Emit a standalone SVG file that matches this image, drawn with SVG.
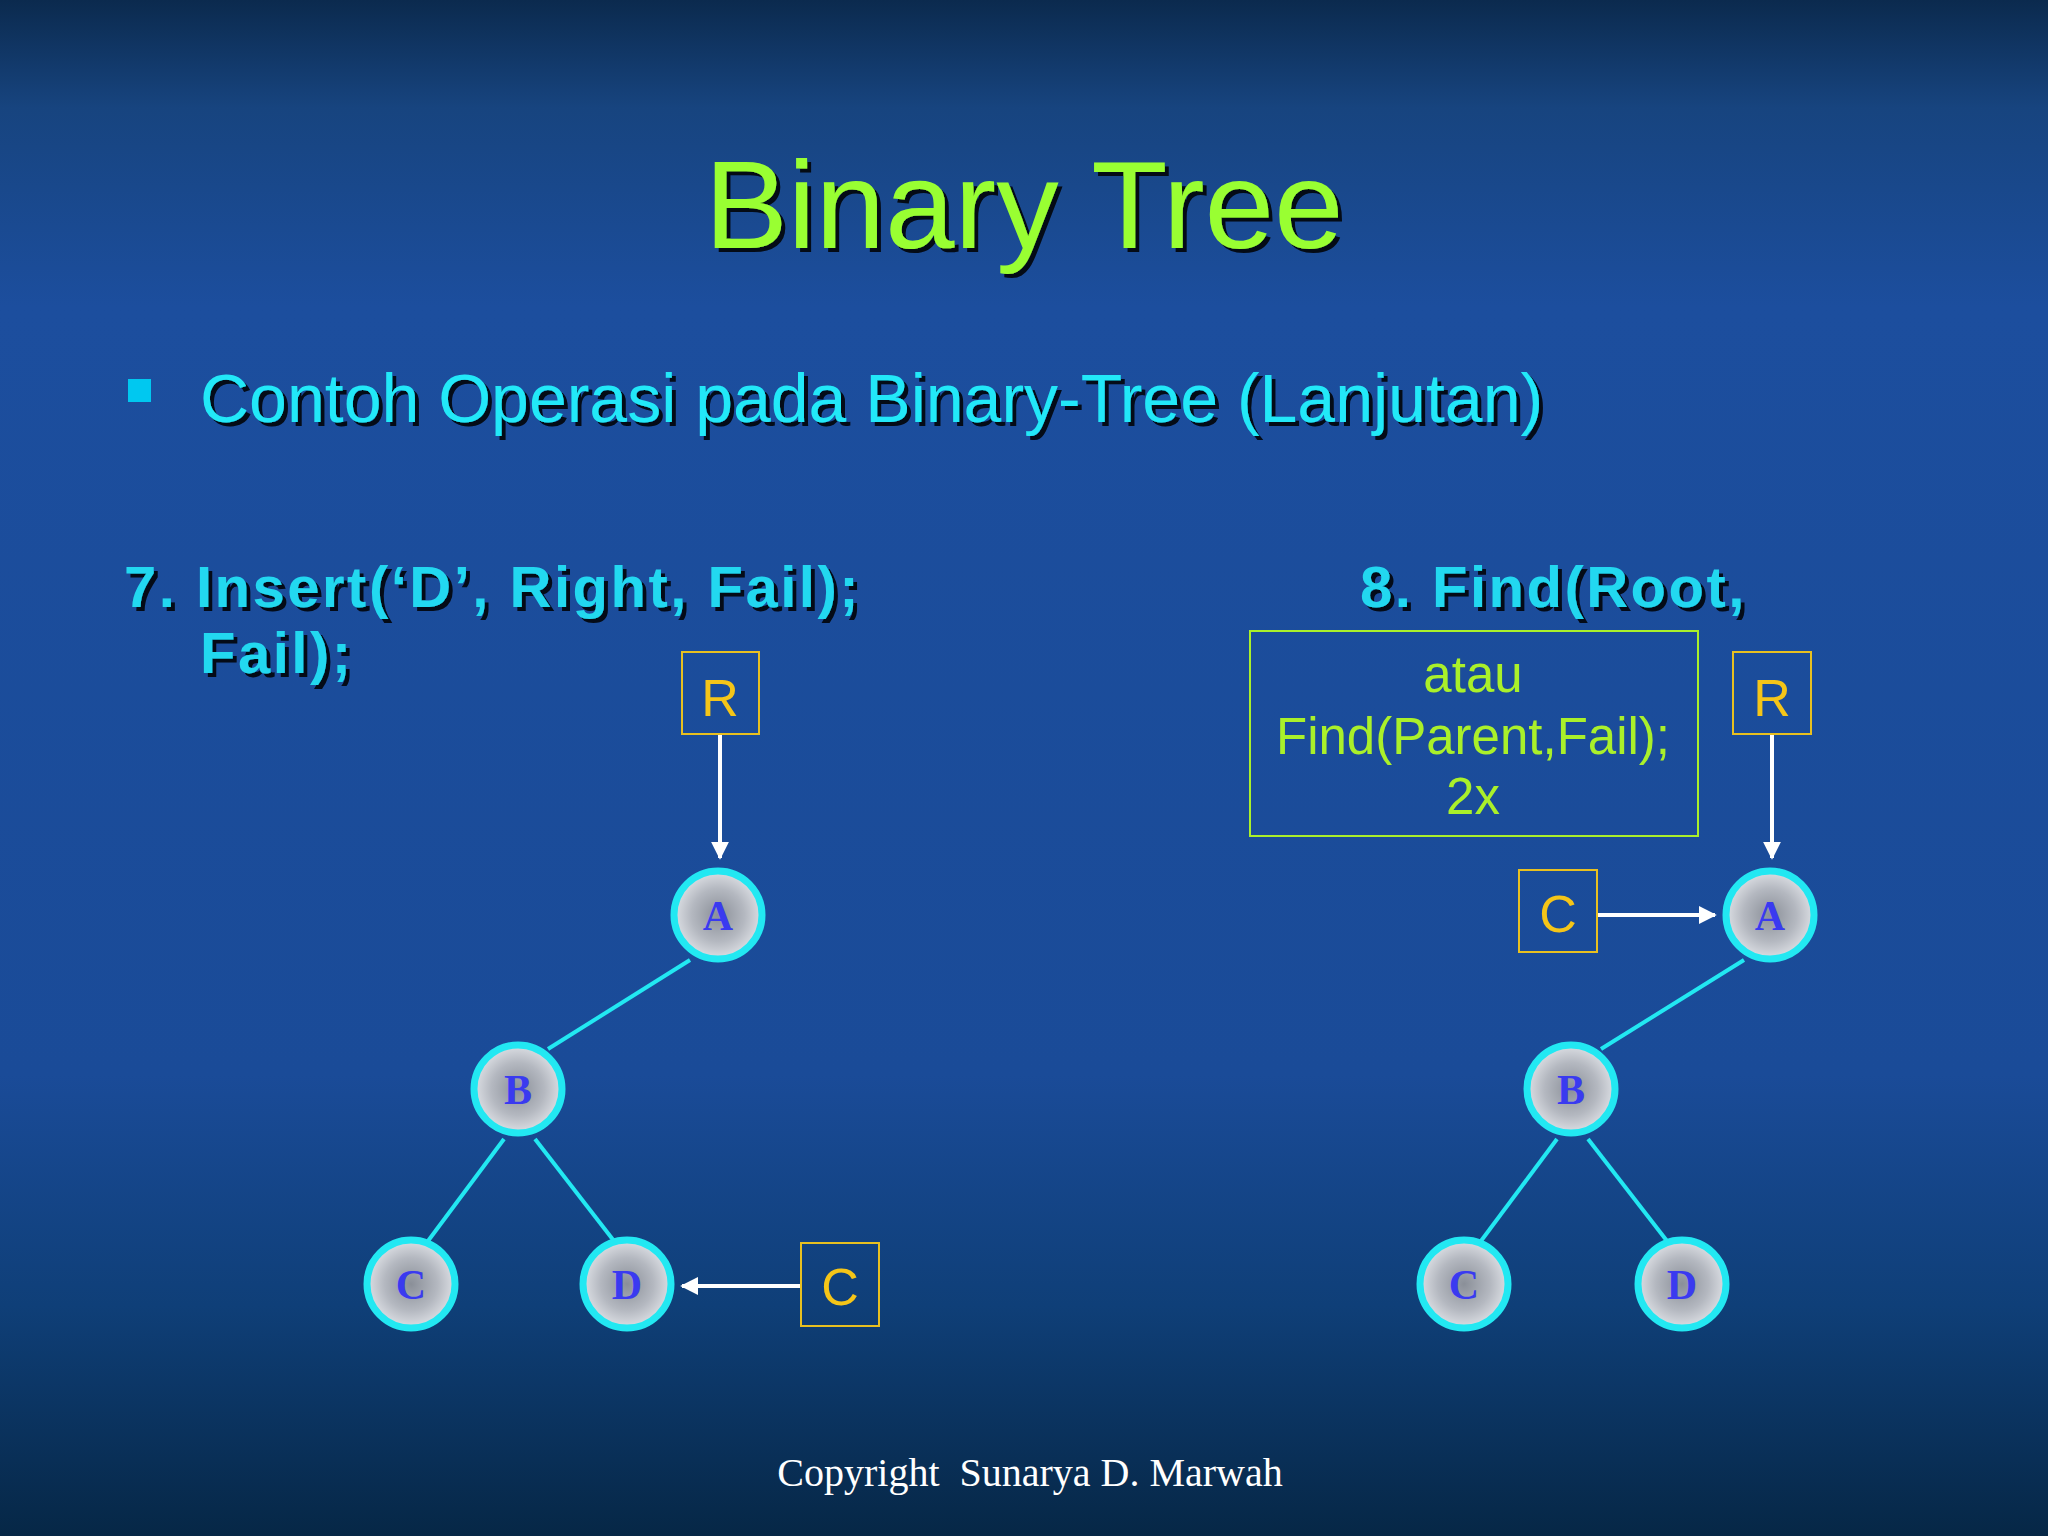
<svg xmlns="http://www.w3.org/2000/svg" width="2048" height="1536" viewBox="0 0 2048 1536">
<defs>
<linearGradient id="bg" x1="0" y1="0" x2="0" y2="1">
<stop offset="0" stop-color="#0b2a4e"/>
<stop offset="0.07" stop-color="#17447f"/>
<stop offset="0.2" stop-color="#1c4e9e"/>
<stop offset="0.7" stop-color="#1a4b98"/>
<stop offset="0.85" stop-color="#0f3f78"/>
<stop offset="1" stop-color="#062746"/>
</linearGradient>
<radialGradient id="nodefill" cx="0.5" cy="0.5" r="0.5">
<stop offset="0" stop-color="#8a8f98"/>
<stop offset="0.6" stop-color="#b4b8c0"/>
<stop offset="1" stop-color="#dcdfe4"/>
</radialGradient>
<marker id="ah" viewBox="0 0 10 10" refX="9" refY="5" markerWidth="4.5" markerHeight="4.5" orient="auto" markerUnits="strokeWidth">
<path d="M0,0 L10,5 L0,10 z" fill="#ffffff"/>
</marker>
<filter id="sh" x="-5%" y="-5%" width="110%" height="120%">
<feDropShadow dx="4" dy="4" stdDeviation="0" flood-color="#000000" flood-opacity="0.85"/>
</filter>
</defs>
<style>
.node circle{fill:url(#nodefill);stroke:#22e8f2;stroke-width:7}
.node text{font-family:"Liberation Serif",serif;font-weight:bold;font-size:42px;fill:#3a3af0;text-anchor:middle}
.edge{stroke:#22e8f2;stroke-width:4;fill:none}
.ptr{stroke:#ffffff;stroke-width:4;fill:none;marker-end:url(#ah)}
.ybox{fill:none;stroke:#e8c020;stroke-width:2}
.ytxt{font-family:"Liberation Sans",sans-serif;font-size:52px;fill:#f5c518;text-anchor:middle}
.head{font-family:"Liberation Sans",sans-serif;font-weight:bold;font-size:58px;fill:#22d8f0;letter-spacing:2.5px;filter:url(#sh)}
.gtxt{font-family:"Liberation Sans",sans-serif;font-size:51px;fill:#aaf02a;text-anchor:middle}
</style>
<rect width="2048" height="1536" fill="url(#bg)"/>
<text x="1024" y="248" font-family="Liberation Sans, sans-serif" font-size="125" fill="#99ff33" text-anchor="middle" filter="url(#sh)">Binary Tree</text>
<rect x="128" y="379" width="23" height="23" fill="#00c8f0"/>
<text x="200" y="422" font-family="Liberation Sans, sans-serif" font-size="68" fill="#22e8f8" filter="url(#sh)">Contoh Operasi pada Binary-Tree (Lanjutan)</text>
<text class="head" x="124" y="607">7. Insert(‘D’, Right, Fail);</text>
<text class="head" x="200" y="673">Fail);</text>
<text class="head" x="1360" y="607">8. Find(Root,</text>
<g id="note">
<rect x="1250" y="631" width="448" height="205" fill="none" stroke="#aaf02a" stroke-width="2"/>
<text class="gtxt" x="1473" y="692">atau</text>
<text class="gtxt" x="1473" y="754">Find(Parent,Fail);</text>
<text class="gtxt" x="1473" y="814">2x</text>
</g>
<g id="connectors">
<line class="edge" x1="690" y1="960" x2="548" y2="1049"/>
<line class="edge" x1="504" y1="1139" x2="428" y2="1241"/>
<line class="edge" x1="535" y1="1139" x2="614" y2="1241"/>
<line class="edge" x1="1744" y1="960" x2="1601" y2="1049"/>
<line class="edge" x1="1557" y1="1139" x2="1481" y2="1241"/>
<line class="edge" x1="1588" y1="1139" x2="1667" y2="1241"/>
<line class="ptr" x1="720" y1="734" x2="720" y2="858"/>
<line class="ptr" x1="801" y1="1286" x2="682" y2="1286"/>
<line class="ptr" x1="1772" y1="734" x2="1772" y2="858"/>
<line class="ptr" x1="1597" y1="915" x2="1715" y2="915"/>
</g>
<g id="R1"><rect class="ybox" x="682" y="652" width="77" height="82"/><text class="ytxt" x="720" y="716">R</text></g>
<g id="Cptr1"><rect class="ybox" x="801" y="1243" width="78" height="83"/><text class="ytxt" x="840" y="1305">C</text></g>
<g id="R2"><rect class="ybox" x="1733" y="652" width="78" height="82"/><text class="ytxt" x="1772" y="716">R</text></g>
<g id="Cptr2"><rect class="ybox" x="1519" y="870" width="78" height="82"/><text class="ytxt" x="1558" y="932">C</text></g>
<g id="A1" class="node"><circle cx="718" cy="915" r="44"/><text x="718" y="930">A</text></g>
<g id="B1" class="node"><circle cx="518" cy="1089" r="44"/><text x="518" y="1104">B</text></g>
<g id="C1" class="node"><circle cx="411" cy="1284" r="44"/><text x="411" y="1299">C</text></g>
<g id="D1" class="node"><circle cx="627" cy="1284" r="44"/><text x="627" y="1299">D</text></g>
<g id="A2" class="node"><circle cx="1770" cy="915" r="44"/><text x="1770" y="930">A</text></g>
<g id="B2" class="node"><circle cx="1571" cy="1089" r="44"/><text x="1571" y="1104">B</text></g>
<g id="C2" class="node"><circle cx="1464" cy="1284" r="44"/><text x="1464" y="1299">C</text></g>
<g id="D2" class="node"><circle cx="1682" cy="1284" r="44"/><text x="1682" y="1299">D</text></g>
<text x="1030" y="1486" font-family="Liberation Serif, serif" font-size="40" fill="#ffffff" text-anchor="middle" xml:space="preserve">Copyright  Sunarya D. Marwah</text>
</svg>
